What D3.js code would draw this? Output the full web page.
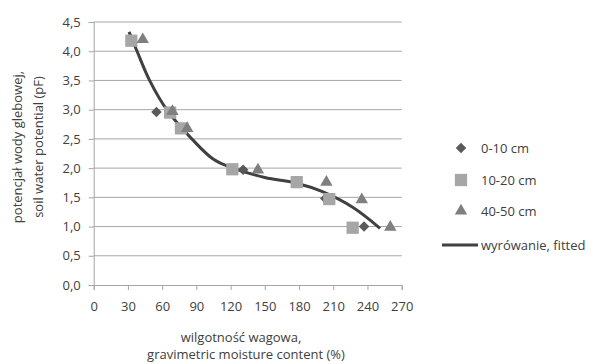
<!DOCTYPE html>
<html><head><meta charset="utf-8">
<script src="https://cdn.jsdelivr.net/npm/d3@7"></script>
<style>body{margin:0;background:#fff}text{font-family:"Open Sans",sans-serif;fill:#404040}</style>
</head><body><svg id="c" width="609" height="364"></svg>
<script>
const xTicks = [0,30,60,90,120,150,180,210,240,270];
const yTicks = [0,0.5,1,1.5,2,2.5,3,3.5,4,4.5];
const s0_10 = [[33,4.2],[55,2.96],[131,1.97],[178,1.75],[203,1.48],[237,1.0]];
const s10_20 = [[33,4.18],[67,2.95],[76.5,2.68],[121.5,1.98],[178,1.76],[206.5,1.47],[227,0.98]];
const s40_50 = [[43,4.2],[69,2.97],[82,2.68],[144,1.97],[204,1.76],[235,1.46],[260,0.99]];
const fitted = [[31,4.33],[38,4.0],[49,3.5],[64,3.0],[86,2.5],[105,2.15],[122,2.0],[150,1.84],[178,1.74],[200,1.6],[227,1.33],[251,0.97]];
const legendLabels = ["0-10 cm","10-20 cm","40-50 cm","wyrówanie, fitted"];

const svg = d3.select("#c");
const x = d3.scaleLinear().domain([0,270]).range([93.7,401.7]);
const y = d3.scaleLinear().domain([0,4.5]).range([285,22]);
const fmt = v => d3.format(".1f")(v).replace(".",",");

// grid
svg.append("g").selectAll("line").data(yTicks.slice(1)).join("line")
  .attr("x1",x(0)).attr("x2",x(270)).attr("y1",d=>y(d)).attr("y2",d=>y(d))
  .attr("stroke","#a6a6a6").attr("stroke-width",1);

const yAx = svg.append("g").attr("transform",`translate(${x(0)},0)`)
  .call(d3.axisLeft(y).tickValues(yTicks).tickFormat(fmt).tickSize(5).tickPadding(8));
const xAx = svg.append("g").attr("transform",`translate(0,${y(0)})`)
  .call(d3.axisBottom(x).tickValues(xTicks).tickFormat(d3.format("d")).tickSize(5).tickPadding(12));
[yAx,xAx].forEach(g=>{
  g.select(".domain").attr("stroke","#a6a6a6");
  g.selectAll(".tick line").attr("stroke","#a6a6a6");
  g.selectAll("text").attr("font-size",13).attr("fill","#404040").attr("font-family","Open Sans");
});

// fitted line
const line = d3.line().x(d=>x(d[0])).y(d=>y(d[1])).curve(d3.curveCatmullRom);
svg.append("path").datum(fitted).attr("d",line).attr("fill","none")
  .attr("stroke","#404040").attr("stroke-width",3);

const sym = {
  d: d3.symbol().type(d3.symbolDiamond2).size(70),
  s: d3.symbol().type(d3.symbolSquare).size(150),
  t: d3.symbol().type(d3.symbolTriangle2).size(110)
};
const series = [[s0_10,sym.d,"#595959"],[s10_20,sym.s,"#a6a6a6"],[s40_50,sym.t,"#7f7f7f"]];
series.forEach(([data,sy,col])=>{
  svg.append("g").selectAll("path").data(data).join("path")
    .attr("d",sy).attr("fill",col)
    .attr("transform",d=>`translate(${x(d[0])},${y(d[1])})`);
});

// axis titles
svg.append("text").attr("x",241).attr("y",342).attr("text-anchor","middle").attr("font-size",13).text("wilgotność wagowa,");
svg.append("text").attr("x",246).attr("y",359).attr("text-anchor","middle").attr("font-size",13).text("gravimetric moisture content (%)");
const yt = svg.append("text").attr("transform","translate(0,147) rotate(-90)").attr("text-anchor","middle").attr("font-size",13);
yt.append("tspan").attr("x",0).attr("y",22).text("potencjał wody glebowej,");
yt.append("tspan").attr("x",0).attr("y",43).text("soil water potential (pF)");

// legend
const ly = [148,180,211,245];
[sym.d,sym.s,sym.t].forEach((sy,i)=>{
  svg.append("path").attr("d",sy).attr("fill",series[i][2]).attr("transform",`translate(461,${ly[i]})`);
});
svg.append("line").attr("x1",442).attr("x2",478).attr("y1",ly[3]).attr("y2",ly[3]).attr("stroke","#404040").attr("stroke-width",3);
legendLabels.forEach((t,i)=>{
  svg.append("text").attr("x",481).attr("y",ly[i]).attr("dy","0.35em").attr("font-size",13).text(t);
});
</script></body></html>
